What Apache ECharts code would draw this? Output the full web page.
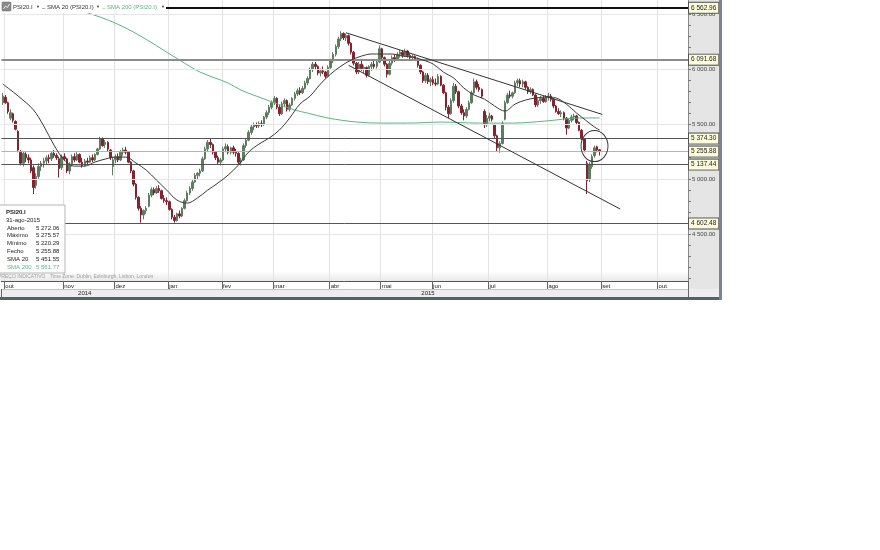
<!DOCTYPE html>
<html><head><meta charset="utf-8">
<script src="https://cdn.jsdelivr.net/npm/echarts@6/dist/echarts.min.js"></script>
<style>html,body{margin:0;padding:0;background:#fff}#c{width:880px;height:550px}</style>
</head><body><div id="c"></div>
<script>
// ---------- data ----------
const firstDay = '2014-09-30';
const lastDay = '2015-10-16';
const holidays = ['2014-12-25','2014-12-26','2015-01-01','2015-04-03','2015-04-06','2015-05-01'];
const monthNames = ['jan','fev','mar','abr','mai','jun','jul','ago','set','out','nov','dez'];

const openV = [
5700,5750,5700,5560,5600,5530,5440,5250,5150,5230,5200,5180,5110,4950,5030,5120,5150,5170,5200,5190,5240,5220,5190,5110,
5210,5190,5080,5140,5210,5180,5230,5160,5130,5170,5160,5200,5180,5230,5280,5370,5320,5340,5270,5120,
5180,5210,5180,5250,5270,5250,5160,5080,4960,4840,4740,4680,4720,4760,4860,4910,4880,4920,4900,4830,4810,
4800,4730,4660,4630,4690,4670,4740,4810,4880,4920,4980,5040,5060,5080,5190,5280,5340,5320,5250,5200,5160,
5180,5280,5300,5250,5290,5250,5240,5160,5180,5310,5360,5430,5480,5500,5490,5510,5500,5570,5610,5660,
5700,5740,5660,5600,5690,5720,5640,5680,5740,5780,5810,5790,5830,5880,5920,6000,6050,6030,5970,5990,5980,5940,
6020,6080,6140,6210,6280,6330,6290,6310,6240,6160,6060,5980,6050,6010,6020,5950,6030,6050,6030,6070,
6190,6110,6050,5960,6060,6110,6090,6140,6160,6130,6170,6130,6110,6120,6100,6040,5980,5900,5950,5890,
5910,5880,5870,5940,5860,5790,5660,5600,5720,5850,5800,5670,5610,5580,5640,5700,5790,5890,5840,5820,5620,5500,
5560,5580,5500,5400,5290,5330,5550,5700,5770,5760,5790,5880,5900,5870,5890,5840,5800,5820,5770,5680,5720,5740,5710,
5750,5760,5730,5670,5620,5600,5610,5560,5470,5540,5570,5580,5520,5450,5370,5150,5000,5120,5220,5300,5272.06];
const highV = [
5790,5770,5710,5640,5610,5540,5450,5270,5260,5250,5230,5200,5130,5060,5150,5170,5200,5220,5230,5260,5270,5240,5210,5230,
5240,5200,5160,5230,5240,5250,5240,5200,5190,5200,5220,5230,5240,5290,5390,5385,5360,5350,5280,5210,
5230,5240,5270,5290,5300,5260,5170,5090,4970,4850,4760,4730,4760,4880,4930,4930,4940,4950,4910,4860,4840,
4810,4740,4680,4700,4720,4750,4830,4900,4940,5000,5060,5070,5100,5210,5300,5360,5370,5330,5260,5220,5200,
5300,5330,5320,5300,5310,5280,5250,5200,5330,5380,5450,5500,5520,5520,5530,5540,5580,5630,5680,5720,
5760,5750,5680,5710,5740,5730,5700,5750,5800,5830,5840,5850,5900,5940,6020,6070,6070,6040,6010,6030,5990,6040,
6100,6160,6230,6300,6350,6340,6330,6320,6250,6170,6070,6070,6080,6040,6030,6040,6070,6080,6090,6220,
6200,6120,6060,6080,6130,6140,6160,6180,6180,6190,6180,6150,6140,6130,6110,6050,5990,5970,5970,5930,
5940,5920,5960,5950,5870,5800,5680,5740,5880,5870,5810,5690,5640,5660,5720,5810,5920,5910,5870,5830,5640,5590,
5610,5590,5510,5410,5350,5530,5720,5790,5810,5800,5900,5920,5920,5910,5900,5850,5840,5830,5780,5740,5760,5760,5770,
5790,5780,5740,5680,5650,5630,5620,5570,5560,5590,5600,5590,5530,5460,5380,5170,5160,5230,5310,5310,5275.57];
const lowV = [
5680,5690,5600,5540,5520,5450,5250,5130,5120,5160,5150,5060,4870,4920,5010,5080,5110,5140,5150,5170,5200,5180,5020,5090,
5170,5060,5050,5120,5160,5170,5150,5110,5120,5140,5150,5160,5170,5220,5270,5300,5290,5260,5180,5040,
5150,5160,5170,5220,5230,5150,5060,4940,4820,4720,4610,4640,4690,4750,4840,4860,4870,4880,4820,4790,4770,
4720,4640,4610,4620,4650,4660,4730,4800,4860,4900,4970,5000,5030,5070,5180,5260,5290,5230,5180,5140,5130,
5170,5250,5230,5230,5230,5210,5140,5130,5170,5290,5350,5410,5450,5470,5470,5480,5490,5550,5590,5640,
5680,5640,5580,5590,5660,5620,5620,5670,5720,5760,5770,5780,5820,5860,5910,5980,6000,5950,5940,5960,5920,5930,
6000,6060,6120,6190,6260,6270,6260,6220,6140,6040,5960,5960,5990,5970,5930,5940,5990,6010,6010,6060,
6090,6030,5930,5950,6040,6070,6080,6110,6110,6120,6110,6090,6090,6080,6020,5960,5880,5880,5870,5850,
5860,5850,5860,5850,5780,5630,5560,5590,5700,5780,5650,5590,5540,5560,5630,5690,5780,5820,5800,5740,5470,5480,
5530,5530,5380,5260,5245,5320,5540,5690,5740,5740,5780,5850,5840,5840,5820,5780,5780,5760,5660,5660,5690,5700,5700,
5720,5710,5650,5610,5590,5570,5540,5410,5460,5520,5540,5500,5440,5360,5250,4870,4980,5100,5200,5250,5220.29];
const closeV = [
5760,5700,5620,5610,5540,5460,5270,5150,5240,5200,5180,5080,4930,5030,5120,5150,5170,5200,5190,5240,5220,5200,5100,5210,
5190,5080,5140,5210,5180,5230,5160,5130,5170,5160,5200,5180,5230,5280,5370,5310,5340,5280,5200,5180,
5210,5180,5250,5270,5250,5160,5080,4960,4840,4740,4680,4720,4740,4860,4910,4880,4920,4900,4830,4810,4800,
4730,4660,4630,4690,4670,4740,4810,4880,4920,4980,5040,5060,5080,5190,5280,5340,5320,5250,5200,5160,5180,
5280,5300,5250,5290,5250,5240,5160,5180,5310,5360,5430,5480,5500,5490,5510,5500,5570,5610,5660,5700,
5740,5660,5600,5690,5720,5640,5680,5740,5780,5810,5790,5830,5880,5920,6000,6050,6030,5970,5990,5980,5940,6020,
6080,6140,6210,6280,6330,6290,6310,6240,6160,6060,5980,6050,6010,6020,5950,6030,6050,6030,6070,6190,
6110,6050,5960,6060,6110,6090,6140,6160,6130,6170,6130,6110,6120,6100,6040,5980,5900,5950,5890,5910,
5880,5870,5940,5860,5790,5660,5600,5720,5850,5800,5670,5610,5580,5640,5700,5790,5890,5840,5820,5760,5500,5560,
5580,5550,5400,5290,5330,5510,5700,5770,5760,5790,5880,5900,5870,5890,5840,5800,5820,5770,5680,5720,5740,5710,5750,
5760,5730,5670,5620,5600,5610,5560,5470,5540,5570,5580,5520,5450,5370,5270,4990,5140,5210,5290,5270,5255.88];

const sma20Dates = ['2014-09-30','2014-10-08','2014-10-16','2014-10-22','2014-10-28','2014-11-03','2014-11-07','2014-11-13','2014-11-19','2014-11-25',
'2014-12-01','2014-12-05','2014-12-11','2014-12-17','2014-12-23','2014-12-31','2015-01-07','2015-01-13','2015-01-19','2015-01-23','2015-01-29',
'2015-02-04','2015-02-10','2015-02-16','2015-02-20','2015-02-26','2015-03-04','2015-03-10','2015-03-16','2015-03-20','2015-03-26',
'2015-04-01','2015-04-09','2015-04-15','2015-04-21','2015-04-27','2015-05-04','2015-05-08','2015-05-14','2015-05-20','2015-05-26',
'2015-06-01','2015-06-05','2015-06-11','2015-06-17','2015-06-23','2015-06-29','2015-07-03','2015-07-09','2015-07-15','2015-07-21','2015-07-27','2015-07-31',
'2015-08-06','2015-08-12','2015-08-18','2015-08-24','2015-08-27','2015-08-31'];
const sma20Values = [5870,5761,5634,5488,5315,5179,5124,5124,5161,5188,
5206,5206,5152,5088,4997,4906,4815,4788,4834,4906,4970,
5043,5134,5252,5324,5379,5452,5561,5688,5761,5870,
5961,6033,6088,6124,6143,6143,6143,6124,6115,6088,
6052,5979,5925,5834,5770,5734,5670,5624,5688,5724,5743,5752,
5743,5688,5606,5533,5479,5451.55];

const sma200Dates = ['2014-10-10','2014-10-22','2014-11-21','2014-12-10','2015-01-08','2015-01-20','2015-02-04','2015-02-11','2015-02-23',
'2015-03-12','2015-03-19','2015-03-31','2015-04-17','2015-05-04','2015-05-18','2015-06-04','2015-06-25','2015-07-14','2015-07-31','2015-08-19','2015-08-31'];
const sma200Values = [6720,6640,6479,6343,6088,5979,5879,5815,5743,
5634,5606,5561,5525,5515,5515,5524,5515,5515,5534,5561,5561.77];

const levelValues = [6562.96, 6091.68, 5374.30, 5255.88, 5137.44, 4602.48];
const yTickLabels = [4500, 5000, 5500, 6000, 6500];
const upperTrend = [['2015-04-13', 6336], ['2015-09-01', 5594]];
const lowerTrend = [['2015-04-14', 6040], ['2015-09-10', 4734]];
const circleMark = ['2015-08-27', 5306];

// ---------- derived ----------
const categories = [];
for (let d = new Date(firstDay + 'T00:00:00Z'); d <= new Date(lastDay + 'T00:00:00Z'); d.setUTCDate(d.getUTCDate() + 1)) {
  const wd = d.getUTCDay(); const s = d.toISOString().slice(0, 10);
  if (wd === 0 || wd === 6 || holidays.includes(s)) continue;
  categories.push(s);
}
const isMonthStart = categories.map((c, i) => i > 0 && c.slice(5, 7) !== categories[i - 1].slice(5, 7));
const isYearStart = categories.map((c, i) => i > 0 && c.slice(0, 4) !== categories[i - 1].slice(0, 4));
const yearSpans = {};
categories.forEach((c, i) => { const y = c.slice(0, 4); if (!yearSpans[y]) yearSpans[y] = [i, i]; yearSpans[y][1] = i; });
const yearLabelIdx = Object.values(yearSpans).map(s => Math.round((s[0] + s[1]) / 2));
const minorTicks = [];
for (let v = 4100; v <= 6600; v += 100) minorTicks.push(v);

const candleData = closeV.map((c, i) => [openV[i], c, lowV[i], highV[i]]);
const fmt = v => { const p = Number(v).toFixed(2).split('.'); return p[0].replace(/\B(?=(\d{3})+(?!\d))/g, ' ') + '.' + p[1]; };

const FONT = '"Liberation Sans", Arial, sans-serif';
const UP = '#5e7c60', DOWN = '#84222f', GREEN = '#5cb480';

const levelStyles = [
  { color: '#111', width: 2 }, { color: '#8c8c8c', width: 2 }, { color: '#555', width: 1 },
  { color: '#dba3a3', width: 1 }, { color: '#555', width: 1 }, { color: '#555', width: 1 }
];

const n = closeV.length - 1;
const lastDate = categories[n];
const lastDateLabel = (+lastDate.slice(8, 10)) + '-' + monthNames[+lastDate.slice(5, 7) - 1] + '-' + lastDate.slice(0, 4);
const infoRows = [
  ['Aberto', openV[n], '#222'], ['Máximo', highV[n], '#222'], ['Mínimo', lowV[n], '#222'],
  ['Fecho', closeV[n], '#222'], ['SMA 20', sma20Values[sma20Values.length - 1], '#222'],
  ['SMA 200', sma200Values[sma200Values.length - 1], GREEN]
];

const graphics = [
  { type: 'rect', z: -10, shape: { x: 688, y: 0, width: 32, height: 297 }, style: { fill: '#e5e5e5' } },
  { type: 'rect', z: -10, shape: { x: 0, y: 271, width: 688, height: 10 },
    style: { fill: new echarts.graphic.LinearGradient(0, 0, 0, 1, [{ offset: 0, color: '#ffffff' }, { offset: 1, color: '#e9e9e9' }]) } },
  { type: 'rect', z: -10, shape: { x: 0, y: 289, width: 720, height: 8 }, style: { fill: '#ededed' } },
  { type: 'rect', z: 60, shape: { x: 0, y: 297, width: 722, height: 3 }, style: { fill: '#56606c' } },
  { type: 'rect', z: 60, shape: { x: 719, y: 0, width: 3, height: 300 }, style: { fill: '#7c838d' } },
  // legend strip
  { type: 'rect', z: 50, shape: { x: 0, y: 0, width: 166, height: 13 }, style: { fill: '#ffffff' } },
  { type: 'rect', z: 51, shape: { x: 2, y: 2, width: 9, height: 9, r: 1 }, style: { fill: '#8a8a8a', stroke: '#666', lineWidth: 0.5 } },
  { type: 'polyline', z: 52, shape: { points: [[3.5, 9], [5.5, 6], [7.5, 7.5], [9.5, 4]] }, style: { stroke: '#fff', lineWidth: 0.8, fill: null } },
  { type: 'text', z: 52, style: { text: 'PSI20.I', x: 13, y: 7, font: '6px ' + FONT, fill: '#333', verticalAlign: 'middle' } },
  { type: 'text', z: 52, style: { text: '▼', x: 36, y: 7, font: '4px ' + FONT, fill: '#333', verticalAlign: 'middle' } },
  { type: 'text', z: 52, style: { text: '_', x: 42, y: 6, font: '6px ' + FONT, fill: '#333', verticalAlign: 'middle' } },
  { type: 'text', z: 52, style: { text: 'SMA 20 (PSI20.I)', x: 47, y: 7, font: '6px ' + FONT, fill: '#333', verticalAlign: 'middle' } },
  { type: 'text', z: 52, style: { text: '▼', x: 96, y: 7, font: '4px ' + FONT, fill: '#333', verticalAlign: 'middle' } },
  { type: 'text', z: 52, style: { text: '_', x: 102, y: 6, font: '6px ' + FONT, fill: GREEN, verticalAlign: 'middle' } },
  { type: 'text', z: 52, style: { text: 'SMA 200 (PSI20.I)', x: 107, y: 7, font: '6px ' + FONT, fill: GREEN, verticalAlign: 'middle' } },
  { type: 'text', z: 52, style: { text: '▼', x: 161, y: 7, font: '4px ' + FONT, fill: '#333', verticalAlign: 'middle' } },
  // info box
  { type: 'rect', z: 50, shape: { x: -1, y: 205, width: 66, height: 68 }, style: { fill: '#ffffff', stroke: '#b5b5b5', lineWidth: 1 } },
  { type: 'text', z: 52, style: { text: 'PSI20.I', x: 6, y: 212, font: 'bold 6px ' + FONT, fill: '#222', verticalAlign: 'middle' } },
  { type: 'text', z: 52, style: { text: lastDateLabel, x: 6, y: 220, font: '6px ' + FONT, fill: '#222', verticalAlign: 'middle' } },
  // footer
  { type: 'text', z: 40, style: { text: 'PREÇO INDICATIVO', x: -2, y: 277, font: '5px ' + FONT, fill: '#9a9a9a', verticalAlign: 'middle' } },
  { type: 'text', z: 40, style: { text: 'Time Zone: Dublin, Edinburgh, Lisbon, London', x: 50, y: 277, font: '5px ' + FONT, fill: '#9a9a9a', verticalAlign: 'middle' } }
];
infoRows.forEach((r, k) => {
  graphics.push({ type: 'text', z: 52, style: { text: r[0], x: 7, y: 228 + k * 7.8, font: '6px ' + FONT, fill: r[2], verticalAlign: 'middle' } });
  graphics.push({ type: 'text', z: 52, style: { text: fmt(r[1]), x: 36, y: 228 + k * 7.8, font: '6px ' + FONT, fill: r[2], verticalAlign: 'middle' } });
});

const option = {
  animation: false,
  backgroundColor: '#ffffff',
  grid: { left: 1.5, right: 192, top: 0, bottom: 269, containLabel: false },
  xAxis: [
    {
      type: 'category', data: categories, position: 'bottom', boundaryGap: true,
      axisLine: { show: true, lineStyle: { color: '#555', width: 1 } },
      axisTick: { show: true, interval: (i) => isMonthStart[i], length: 8, lineStyle: { color: '#666' } },
      axisLabel: { interval: (i) => isMonthStart[i], formatter: v => monthNames[+v.slice(5, 7) - 1], align: 'left',
        fontSize: 6, fontFamily: FONT, color: '#222', margin: 2 },
      splitLine: { show: true, interval: (i) => isMonthStart[i], lineStyle: { color: '#e2e2e2', width: 1 } }
    },
    {
      type: 'category', data: categories, position: 'bottom', offset: 8, boundaryGap: true,
      axisLine: { show: true, lineStyle: { color: '#c4c4c4', width: 1 } },
      axisTick: { show: true, interval: (i) => isYearStart[i], length: 8, lineStyle: { color: '#666' } },
      axisLabel: { interval: (i) => yearLabelIdx.includes(i), formatter: v => v.slice(0, 4), align: 'center',
        fontSize: 6, fontFamily: FONT, color: '#222', margin: 1 },
      splitLine: { show: false }
    }
  ],
  yAxis: {
    type: 'value', position: 'right', min: 4079.5, max: 6634, scale: true,
    axisLine: { show: true, lineStyle: { color: '#8a8a8a' } },
    axisTick: { show: true, length: 3, customValues: minorTicks, lineStyle: { color: '#777' } },
    axisLabel: { customValues: yTickLabels, formatter: fmt, fontSize: 6, fontFamily: FONT, color: '#444', margin: 4 },
    splitLine: { show: false }
  },
  graphic: graphics,
  series: [
    {
      name: 'grid', type: 'line', data: [], z: 1, silent: true,
      markLine: { silent: true, symbol: 'none', label: { show: false }, animation: false,
        lineStyle: { color: '#e6e6e6', type: 'solid', width: 1 },
        data: yTickLabels.map(v => ({ yAxis: v })) }
    },
    {
      name: 'PSI20.I', type: 'candlestick', data: candleData, barWidth: 2, z: 3,
      itemStyle: { color: UP, color0: DOWN, borderColor: UP, borderColor0: DOWN, borderWidth: 1 },
      markLine: {
        silent: true, symbol: 'none', animation: false,
        data: levelValues.map((v, k) => ({
          yAxis: v, lineStyle: { type: 'solid', color: levelStyles[k].color, width: levelStyles[k].width },
          label: { show: true, position: 'end', distance: 1, formatter: () => fmt(v), fontSize: 6.5, fontFamily: FONT,
            color: '#222', backgroundColor: '#fbfbdc', borderColor: '#555', borderWidth: 1, padding: [2, 2, 1, 2] }
        }))
      }
    },
    {
      name: 'SMA 200', type: 'line', data: sma200Dates.map((d, k) => [d, sma200Values[k]]), smooth: 0.35,
      showSymbol: false, z: 4, lineStyle: { color: GREEN, width: 1 }, clip: true
    },
    {
      name: 'SMA 20', type: 'line', data: sma20Dates.map((d, k) => [d, sma20Values[k]]), smooth: 0.35,
      showSymbol: false, z: 5, lineStyle: { color: '#3a3a3a', width: 1 }, clip: true
    },
    {
      name: 'annot', type: 'line', data: [], z: 6, silent: true,
      markLine: { silent: true, symbol: 'none', label: { show: false }, animation: false,
        lineStyle: { color: '#333', type: 'solid', width: 1 },
        data: [
          [{ coord: upperTrend[0] }, { coord: upperTrend[1] }],
          [{ coord: lowerTrend[0] }, { coord: lowerTrend[1] }]
        ] },
      markPoint: { silent: true, animation: false, label: { show: false },
        data: [{ coord: circleMark, symbol: 'circle', symbolSize: [27, 31],
          itemStyle: { color: 'rgba(0,0,0,0)', borderColor: '#333', borderWidth: 1 } }] }
    }
  ]
};
const chart = echarts.init(document.getElementById('c'), null, { renderer: 'canvas' });
chart.setOption(option);
</script></body></html>
